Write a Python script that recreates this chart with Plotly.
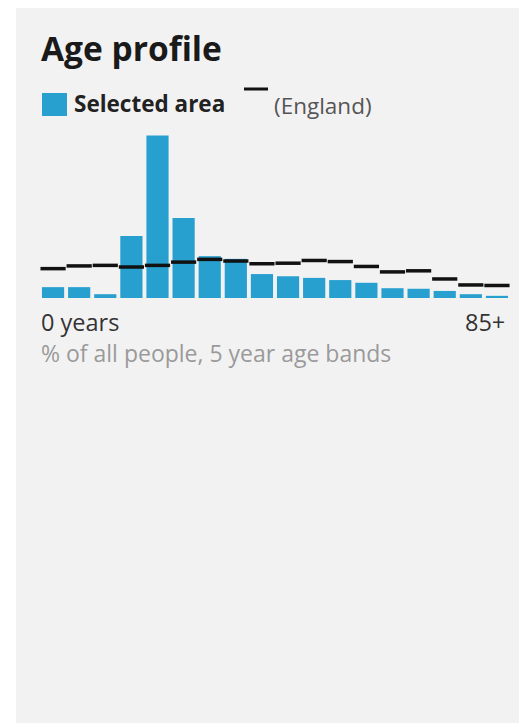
import plotly.graph_objects as go

age_bands = ["0-4", "5-9", "10-14", "15-19", "20-24", "25-29", "30-34", "35-39", "40-44",
             "45-49", "50-54", "55-59", "60-64", "65-69", "70-74", "75-79", "80-84", "85+"]
selected_area = [2.0, 2.0, 0.7, 11.4, 29.9, 14.7, 7.7, 7.2, 4.4,
                 4.0, 3.7, 3.3, 2.8, 1.8, 1.7, 1.3, 0.7, 0.4]
england = [5.4, 5.9, 6.0, 5.7, 6.0, 6.6, 7.1, 6.8, 6.3,
           6.4, 6.9, 6.7, 5.8, 4.8, 5.0, 3.5, 2.4, 2.3]
tick_first = "0 years"
tick_last = "85+"

# page body has an 8px margin; figure coordinates are screen coordinates minus 8
OFF = 8
W, H = 527 - OFF, 723 - OFF
# plot area in screen coords: x 40..510, y 124..298
L, R = 40 - OFF, 527 - 510
T, B = 124 - OFF, 723 - 298
PW = W - L - R
PH = H - T - B

def px(x):
    return (x - OFF - L) / PW

def py(y):
    return (H - B - (y - OFF)) / PH

BLUE = "#28a0cf"
CARD = "#f3f2f3"

fig = go.Figure()
fig.add_trace(go.Bar(x=age_bands, y=selected_area, marker=dict(color=BLUE, line=dict(width=0)),
                     showlegend=False, hoverinfo="skip"))
fig.add_trace(go.Scatter(x=age_bands, y=england, mode="markers",
                         marker=dict(symbol="line-ew", size=18, color="#111",
                                     line=dict(width=3.5, color="#111")),
                         showlegend=False, hoverinfo="skip"))

shapes = [
    dict(type="rect", xref="paper", yref="paper", x0=px(16), x1=px(540), y0=py(740), y1=py(8),
         fillcolor=CARD, line=dict(width=0), layer="below"),
    dict(type="rect", xref="paper", yref="paper", x0=px(42), x1=px(67), y0=py(116), y1=py(93),
         fillcolor=BLUE, line=dict(width=0)),
    dict(type="line", xref="paper", yref="paper", x0=px(244), x1=px(268), y0=py(89), y1=py(89),
         line=dict(color="#111", width=3)),
]

font = "Open Sans, Noto Sans, sans-serif"
annotations = [
    dict(text="<b>Age profile</b>", x=px(39), y=py(48), xanchor="left", yanchor="middle",
         font=dict(family=font, size=33.5, color="#1a1a1a")),
    dict(text="<b>Selected area</b>", x=px(72), y=py(104), xanchor="left", yanchor="middle",
         font=dict(family=font, size=22.5, color="#222")),
    dict(text="(England)", x=px(272), y=py(105), xanchor="left", yanchor="middle",
         font=dict(family=font, size=22.5, color="#555")),
    dict(text=tick_first, x=px(39), y=py(322), xanchor="left", yanchor="middle",
         font=dict(family=font, size=23.5, color="#333")),
    dict(text=tick_last, x=px(507), y=py(322), xanchor="right", yanchor="middle",
         font=dict(family=font, size=23.5, color="#333")),
    dict(text="% of all people, 5 year age bands", x=px(39), y=py(353), xanchor="left", yanchor="middle",
         font=dict(family=font, size=23, color="#9a9a9a")),
]
for a in annotations:
    a.update(xref="paper", yref="paper", showarrow=False)

fig.update_layout(
    width=W, height=H,
    margin=dict(l=L, r=R, t=T, b=B),
    paper_bgcolor="white", plot_bgcolor="rgba(0,0,0,0)",
    bargap=0.15,
    xaxis=dict(visible=False, range=[-0.5, 17.5], fixedrange=True),
    yaxis=dict(visible=False, range=[0, 32], fixedrange=True),
    shapes=shapes, annotations=annotations,
)
fig.write_html("out.html")
